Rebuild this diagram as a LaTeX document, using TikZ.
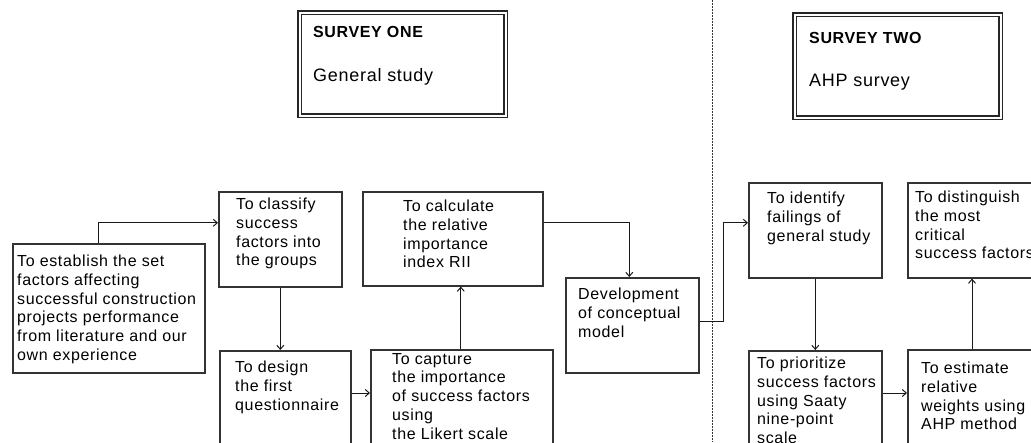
\documentclass[tikz,border=0pt]{standalone}
\usepackage{fontspec}
\setmainfont{Liberation Sans}[LetterSpace=4]
\usetikzlibrary{arrows.meta,positioning,calc}

\begin{document}
\begin{tikzpicture}[
    x=1pt, y=-1pt,
    every node/.style={font=\fontsize{16}{18.7}\selectfont},
    stepbox/.style={
      rectangle, draw=black!80, line width=1.6pt,
      anchor=north west, inner sep=0pt
    },
    headbox/.style={
      rectangle, draw=black!85, line width=1.5pt, double, double distance=1.6pt,
      anchor=north west, inner sep=0pt, minimum width=206pt, minimum height=103pt
    },
    boxtext/.style={anchor=north west, inner sep=0pt, align=left},
    arr/.style={-{Straight Barb[length=4pt,width=7pt]}, line width=1pt, black!90}
  ]
    \clip (0,0) rectangle (1031,442);

    % Survey headers
    \node[headbox] (one) at (299,12) {};
    \node[boxtext, font=\fontsize{16}{18.7}\selectfont\bfseries] (one-t) at (313,26) {SURVEY ONE};
    \node[boxtext, font=\fontsize{18}{20}\selectfont] (one-s) at (313,68) {General study};
    \node[headbox] (two) at (794,14) {};
    \node[boxtext, font=\fontsize{16}{18.7}\selectfont\bfseries] (two-t) at (809,32) {SURVEY TWO};
    \node[boxtext, font=\fontsize{18}{20}\selectfont] (two-s) at (809,74) {AHP survey};

    % Divider between the two surveys
    \coordinate (divtop) at (712,0);
    \coordinate (divbot) at (712,442);
    \draw[black!80, line width=0.8pt, dash pattern=on 1.5pt off 1.5pt] (divtop) -- (divbot);

    % Survey one boxes
    \node[stepbox, minimum width=192pt, minimum height=129pt] (establish) at (12,243) {};
    \node[boxtext] (establish-t) at (17,255) {To establish the set\\factors affecting\\successful construction\\projects performance\\from literature and our\\own experience};

    \node[stepbox, minimum width=123pt, minimum height=95pt] (classify) at (218,191) {};
    \node[boxtext] (classify-t) at (236,198) {To classify\\success\\factors into\\the groups};

    \node[stepbox, minimum width=131pt, minimum height=120pt] (design) at (219,350) {};
    \node[boxtext] (design-t) at (235,361) {To design\\the first\\questionnaire};

    \node[stepbox, minimum width=180pt, minimum height=94pt] (calc) at (362,191) {};
    \node[boxtext] (calc-t) at (403,200) {To calculate\\the relative\\importance\\index RII};

    \node[stepbox, minimum width=182pt, minimum height=120pt] (capture) at (370,349) {};
    \node[boxtext] (capture-t) at (392,353) {To capture\\the importance\\of success factors\\using\\the Likert scale};

    \node[stepbox, minimum width=133pt, minimum height=95pt] (model) at (565,277) {};
    \node[boxtext] (model-t) at (578,288) {Development\\of conceptual\\model};

    % Survey two boxes
    \node[stepbox, minimum width=133pt, minimum height=95pt] (identify) at (748,182) {};
    \node[boxtext] (identify-t) at (767,192) {To identify\\failings of\\general study};

    \node[stepbox, minimum width=150pt, minimum height=95pt] (critical) at (907,182) {};
    \node[boxtext] (critical-t) at (915,191) {To distinguish\\the most\\critical\\success factors};

    \node[stepbox, minimum width=133pt, minimum height=120pt] (saaty) at (748,350) {};
    \node[boxtext] (saaty-t) at (757,357) {To prioritize\\success factors\\using Saaty\\nine-point\\scale};

    \node[stepbox, minimum width=150pt, minimum height=120pt] (weights) at (907,349) {};
    \node[boxtext] (weights-t) at (921,362) {To estimate\\relative\\weights using\\AHP method};

    % Connectors
    \draw[arr] ([xshift=86pt]establish.north west) |- ([yshift=16.5pt]classify.west);
    \draw[arr] (classify.south) -- (classify.south |- design.north);
    \draw[arr] (design.east |- 0,393) -- (capture.west |- 0,393);
    \draw[arr] ([xshift=-1pt]capture.north) -- ([xshift=-1pt]capture.north |- calc.south);
    \draw[arr] ([yshift=16pt]calc.east) -| ([xshift=-3pt]model.north);
    \draw[arr] ([yshift=3.5pt]model.east) -- ++(24,0) |- ([yshift=7.5pt]identify.west);
    \draw[arr] (identify.south) -- (identify.south |- saaty.north);
    \draw[arr] (saaty.east |- 0,393) -- (weights.west |- 0,393);
    \draw[arr] ([xshift=65pt]weights.north west) -- ([xshift=65pt]critical.south west);

  \end{tikzpicture}
\end{document}
